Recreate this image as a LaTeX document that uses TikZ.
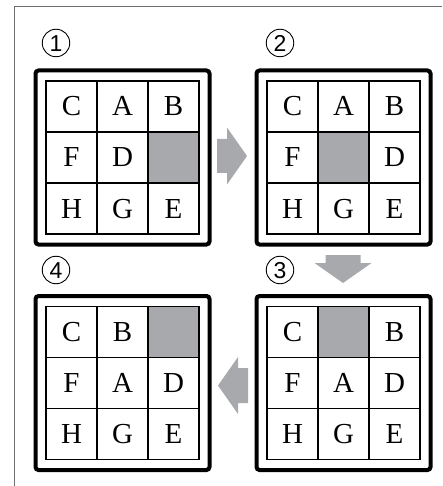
\documentclass[tikz,border=0pt]{standalone}
\usepackage{fontspec}
\setmainfont{Liberation Serif}
\newfontfamily\digitfont{Liberation Sans}
\definecolor{tilegray}{HTML}{A7A9AC}
\definecolor{arrowgray}{HTML}{A7A9AC}
\definecolor{outergray}{HTML}{6D6E70}
\tikzset{
  cell/.style={draw=black, line width=1.8pt, minimum size=51pt, inner sep=0pt,
    text height=19pt, text depth=0pt, font=\fontsize{29}{29}\selectfont},
  puzframe/.style={draw=black, line width=4pt, rounded corners=3pt},
  numcircle/.style={draw=black, circle, line width=0.9pt, minimum size=27.5pt, inner sep=0pt,
    text height=16.5pt, text depth=0pt, font=\digitfont\fontsize{23}{23}\selectfont},
  bigarrow/.style={fill=arrowgray, draw=none},
  outerline/.style={draw=outergray, line width=1pt}
}
\newcommand\drawpuzzle[5]{%
  \draw[puzframe] (#2-10.5,#3-10.5) rectangle (#2+163.5,#3+163.5);
  \foreach \t [count=\i from 0] in {#4} {
    \pgfmathtruncatemacro\rr{div(\i,3)}
    \pgfmathtruncatemacro\cc{mod(\i,3)}
    \ifnum\i=#5\relax\def\cf{tilegray}\else\def\cf{white}\fi
    \node[cell, fill=\cf] (#1-\rr\cc) at (#2+\cc*51+25.5, #3+\rr*51+25.5) {\t};
  }
}
\begin{document}
\begin{tikzpicture}[x=1pt,y=-1pt]
\useasboundingbox (0,0) rectangle (442,486);
% outer frame
\coordinate (fbl) at (14,486);
\coordinate (ftl) at (14,7);
\coordinate (ftr) at (442,7);
\draw[outerline] (fbl) -- (ftl) -- (ftr);
% puzzles
\drawpuzzle{p1}{46}{81}{C,A,B,F,D,{},H,G,E}{5}
\drawpuzzle{p2}{267}{81}{C,A,B,F,{},D,H,G,E}{4}
\drawpuzzle{p3}{267}{306.5}{C,{},B,F,A,D,H,G,E}{1}
\drawpuzzle{p4}{46}{306.5}{C,B,{},F,A,D,H,G,E}{2}
% numbers
\node[numcircle] (n1) at (56,43) {1};
\node[numcircle] (n2) at (280,43) {2};
\node[numcircle] (n3) at (280,270) {3};
\node[numcircle] (n4) at (56,270) {4};
% arrows
\fill[bigarrow] (217,139) -- (227,139) -- (227,127.5) -- (247,156) -- (227,184.5) -- (227,173) -- (217,173) -- cycle;
\fill[bigarrow] (325.5,255) -- (360.5,255) -- (360.5,263) -- (371.5,263) -- (343,283) -- (314.5,263) -- (325.5,263) -- cycle;
\fill[bigarrow] (248,368) -- (238,368) -- (238,357) -- (218,385.5) -- (238,414) -- (238,403) -- (248,403) -- cycle;
\end{tikzpicture}
\end{document}
